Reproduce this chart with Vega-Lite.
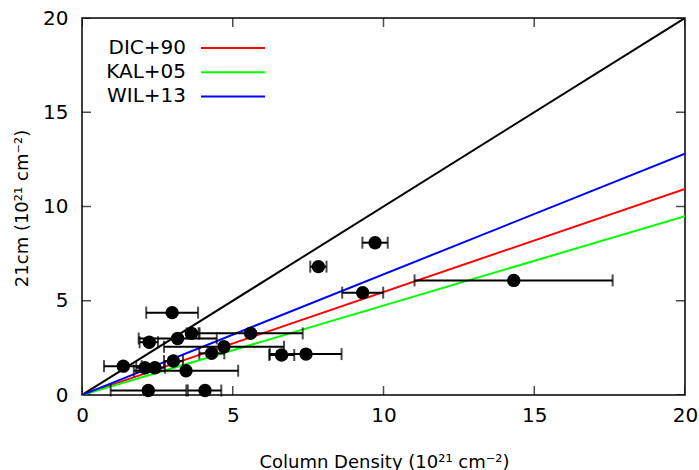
{
  "$schema": "https://vega.github.io/schema/vega-lite/v6.json",
  "width": 603,
  "height": 377,
  "autosize": {"type": "none"},
  "padding": {"left": 82, "top": 18, "right": 14, "bottom": 75},
  "background": "white",
  "config": {
    "font": "DejaVu Sans",
    "view": {"stroke": "black", "strokeWidth": 1.5},
    "axis": {"grid": false, "domain": false, "ticks": false, "labelColor": "black", "titleColor": "black", "labelFont": "DejaVu Sans", "titleFont": "DejaVu Sans", "titleFontWeight": "normal"}
  },
  "datasets": {
    "obs": [
      {"x": 9.72, "y": 8.08, "lo": 9.30, "hi": 10.14},
      {"x": 7.84, "y": 6.81, "lo": 7.57, "hi": 8.11},
      {"x": 9.31, "y": 5.43, "lo": 8.63, "hi": 9.99},
      {"x": 14.32, "y": 6.08, "lo": 11.03, "hi": 17.60},
      {"x": 2.99, "y": 4.37, "lo": 2.13, "hi": 3.85},
      {"x": 2.23, "y": 2.80, "lo": 1.91, "hi": 2.52},
      {"x": 3.17, "y": 3.00, "lo": 1.88, "hi": 4.47},
      {"x": 3.63, "y": 3.27, "lo": 3.47, "hi": 3.90},
      {"x": 5.59, "y": 3.27, "lo": 3.87, "hi": 7.32},
      {"x": 4.71, "y": 2.56, "lo": 2.72, "hi": 6.70},
      {"x": 4.30, "y": 2.21, "lo": 3.89, "hi": 4.72},
      {"x": 6.62, "y": 2.12, "lo": 6.21, "hi": 7.04},
      {"x": 7.43, "y": 2.17, "lo": 6.23, "hi": 8.61},
      {"x": 1.37, "y": 1.53, "lo": 0.73, "hi": 1.98},
      {"x": 2.09, "y": 1.45, "lo": 1.80, "hi": 2.38},
      {"x": 2.42, "y": 1.45, "lo": 2.10, "hi": 2.75},
      {"x": 3.03, "y": 1.80, "lo": 2.72, "hi": 3.35},
      {"x": 3.45, "y": 1.29, "lo": 1.72, "hi": 5.18},
      {"x": 2.20, "y": 0.24, "lo": 0.95, "hi": 3.46},
      {"x": 4.08, "y": 0.24, "lo": 3.51, "hi": 4.62}
    ],
    "models": [
      {"model": "DIC+90", "x": 0, "y": 0},
      {"model": "DIC+90", "x": 20, "y": 10.93},
      {"model": "KAL+05", "x": 0, "y": 0},
      {"model": "KAL+05", "x": 20, "y": 9.49},
      {"model": "WIL+13", "x": 0, "y": 0},
      {"model": "WIL+13", "x": 20, "y": 12.8}
    ],
    "unity": [
      {"x": 0, "y": 0},
      {"x": 20, "y": 20}
    ],
    "axisticks": [
      {"v": 0}, {"v": 5}, {"v": 10}, {"v": 15}, {"v": 20}
    ]
  },
  "layer": [
    {
      "data": {"name": "unity"},
      "mark": {"type": "line", "color": "black", "strokeWidth": 2, "clip": true},
      "encoding": {
        "x": {"field": "x", "type": "quantitative", "scale": {"domain": [0, 20], "nice": false, "zero": false},
          "axis": {"orient": "bottom", "values": [0, 5, 10, 15, 20], "labelPadding": 10, "labelFontSize": 20, "labelFlush": false, "labelOverlap": false,
            "title": "Column Density (10²¹ cm⁻²)", "titleFontSize": 18, "titleX": 302, "titleY": 72, "titleBaseline": "alphabetic", "titleAnchor": null}},
        "y": {"field": "y", "type": "quantitative", "scale": {"domain": [0, 20], "nice": false, "zero": false},
          "axis": {"orient": "left", "values": [0, 5, 10, 15, 20], "labelPadding": 14, "labelFontSize": 20, "labelFlush": false, "labelOverlap": false,
            "title": "21cm (10²¹ cm⁻²)", "titleFontSize": 18, "titleX": -60, "titleY": 190, "titleBaseline": "middle", "titleAngle": -90, "titleAnchor": null}}
      }
    },
    {
      "data": {"name": "axisticks"},
      "mark": {"type": "tick", "color": "black", "orient": "vertical", "thickness": 1.5, "size": 18, "clip": true},
      "encoding": {
        "x": {"field": "v", "type": "quantitative", "axis": null},
        "y": {"datum": 0, "type": "quantitative", "axis": null}
      }
    },
    {
      "data": {"name": "axisticks"},
      "mark": {"type": "tick", "color": "black", "orient": "vertical", "thickness": 1.5, "size": 18, "clip": true},
      "encoding": {
        "x": {"field": "v", "type": "quantitative", "axis": null},
        "y": {"datum": 20, "type": "quantitative", "axis": null}
      }
    },
    {
      "data": {"name": "axisticks"},
      "mark": {"type": "tick", "color": "black", "orient": "horizontal", "thickness": 1.5, "size": 18, "clip": true},
      "encoding": {
        "y": {"field": "v", "type": "quantitative", "axis": null},
        "x": {"datum": 0, "type": "quantitative", "axis": null}
      }
    },
    {
      "data": {"name": "axisticks"},
      "mark": {"type": "tick", "color": "black", "orient": "horizontal", "thickness": 1.5, "size": 18, "clip": true},
      "encoding": {
        "y": {"field": "v", "type": "quantitative", "axis": null},
        "x": {"datum": 20, "type": "quantitative", "axis": null}
      }
    },
    {
      "data": {"name": "models"},
      "mark": {"type": "line", "strokeWidth": 2, "clip": true},
      "encoding": {
        "x": {"field": "x", "type": "quantitative", "axis": null},
        "y": {"field": "y", "type": "quantitative", "axis": null},
        "color": {"field": "model", "type": "nominal",
          "scale": {"domain": ["DIC+90", "KAL+05", "WIL+13"], "range": ["#ff0000", "#00ff00", "#0000ff"]},
          "legend": {"orient": "none", "legendX": 141, "legendY": 20, "title": null, "symbolType": "M-6.4,0H6.4", "symbolSize": 100, "symbolStrokeWidth": 2,
            "labelFontSize": 20, "labelAlign": "right", "labelOffset": -57, "labelColor": "black", "padding": 0, "rowPadding": 4.2, "labelLimit": 0}}
      }
    },
    {
      "data": {"name": "obs"},
      "mark": {"type": "rule", "color": "black", "strokeWidth": 2},
      "encoding": {
        "x": {"field": "lo", "type": "quantitative", "axis": null},
        "x2": {"field": "hi"},
        "y": {"field": "y", "type": "quantitative", "axis": null}
      }
    },
    {
      "data": {"name": "obs"},
      "mark": {"type": "tick", "color": "black", "orient": "vertical", "thickness": 2, "size": 12},
      "encoding": {
        "x": {"field": "lo", "type": "quantitative", "axis": null},
        "y": {"field": "y", "type": "quantitative", "axis": null}
      }
    },
    {
      "data": {"name": "obs"},
      "mark": {"type": "tick", "color": "black", "orient": "vertical", "thickness": 2, "size": 12},
      "encoding": {
        "x": {"field": "hi", "type": "quantitative", "axis": null},
        "y": {"field": "y", "type": "quantitative", "axis": null}
      }
    },
    {
      "data": {"name": "obs"},
      "mark": {"type": "point", "shape": "circle", "filled": true, "color": "black", "opacity": 1, "size": 180},
      "encoding": {
        "x": {"field": "x", "type": "quantitative", "axis": null},
        "y": {"field": "y", "type": "quantitative", "axis": null}
      }
    }
  ],
  "resolve": {"axis": {"x": "independent", "y": "independent"}}
}
